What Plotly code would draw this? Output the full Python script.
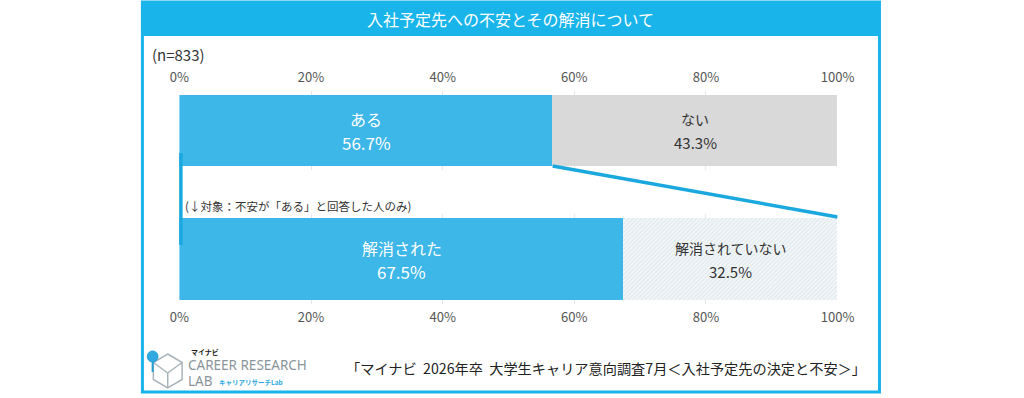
import plotly.graph_objects as go

# ---- data ----
categories_top = ["ある", "ない"]
values_top = [56.7, 43.3]
categories_bottom = ["解消された", "解消されていない"]
values_bottom = [67.5, 32.5]
tick_vals = [0, 20, 40, 60, 80, 100]
tick_text = ["0%", "20%", "40%", "60%", "80%", "100%"]
title_text = "入社予定先への不安とその解消について"
n_text = "(n=833)"
subset_note = "(↓対象：不安が「ある」と回答した人のみ)"
source_text = "「マイナビ  2026年卒  大学生キャリア意向調査7月＜入社予定先の決定と不安＞」"

W, H = 1024, 398
FONT = "Noto Sans CJK JP"
BLUE = "#3DB6E8"
CYAN = "#18B4EA"
GRAY = "#D9D9D9"


def px(x):
    return x / W


def py(y):
    return 1 - y / H


# layout geometry (pixels)
X0, X1 = 174, 850
FL, FR = 136, 893          # frame left / right
TOP_DOM = (91, 170)   # bar 95..166
BOT_DOM = (214, 304)  # bar 218..300
TOP_BAR = (95, 166)
BOT_BAR = (218, 300)


def yr(dom, bar):
    half = 0.5 * (dom[1] - dom[0]) / (bar[1] - bar[0])
    return [-half, half]


fig = go.Figure()

# top bar
top_colors = [BLUE, GRAY]
for c, v, col in zip(categories_top, values_top, top_colors):
    fig.add_trace(go.Bar(
        x=[v], y=["q"], orientation="h", xaxis="x", yaxis="y",
        marker=dict(color=col, line=dict(width=0)),
        hoverinfo="skip", showlegend=False,
    ))

# bottom bar
for i, (c, v) in enumerate(zip(categories_bottom, values_bottom)):
    if i == 0:
        marker = dict(color=BLUE, line=dict(width=0))
    else:
        marker = dict(color="#EEF3F5", line=dict(width=0),
                      pattern=dict(shape="/", fgcolor="#C3D5DC", bgcolor="#F2F6F8",
                                   size=3, solidity=0.3))
    fig.add_trace(go.Bar(
        x=[v], y=["q"], orientation="h", xaxis="x2", yaxis="y2",
        marker=marker, hoverinfo="skip", showlegend=False,
    ))

axis_common = dict(range=[0, 100], tickvals=tick_vals, ticktext=tick_text,
                   showgrid=True, gridcolor="#E6E6E6", gridwidth=1, zeroline=False,
                   showline=False, ticks="outside", tickcolor="rgba(0,0,0,0)",
                   tickfont=dict(family=FONT, size=13, color="#555555"), fixedrange=True)

fig.update_layout(
    width=W, height=H, margin=dict(l=0, r=0, t=0, b=0),
    paper_bgcolor="white", plot_bgcolor="rgba(0,0,0,0)",
    barmode="stack", bargap=0,
    font=dict(family=FONT),
    xaxis=dict(domain=[px(X0), px(X1)], anchor="y", side="top", ticklen=3, **axis_common),
    yaxis=dict(domain=[py(TOP_DOM[1]), py(TOP_DOM[0])], range=yr(TOP_DOM, TOP_BAR),
               showticklabels=False, showgrid=False, zeroline=False, fixedrange=True),
    xaxis2=dict(domain=[px(X0), px(X1)], anchor="y2", side="bottom", ticklen=1, **axis_common),
    yaxis2=dict(domain=[py(BOT_DOM[1]), py(BOT_DOM[0])], range=yr(BOT_DOM, BOT_BAR),
                showticklabels=False, showgrid=False, zeroline=False, fixedrange=True),
)

shapes = []
# outer frame
shapes.append(dict(type="rect", xref="paper", yref="paper", x0=px(FL), x1=px(FR), y0=py(392), y1=py(2),
                   line=dict(color=CYAN, width=3), fillcolor="rgba(0,0,0,0)", layer="above"))
# title band
shapes.append(dict(type="rect", xref="paper", yref="paper", x0=px(FL), x1=px(FR), y0=py(36), y1=py(2),
                   line=dict(width=0), fillcolor=CYAN, layer="below"))
# connector from top bar 'ある' end to bottom bar right end
shapes.append(dict(type="line", xref="x", yref="paper",
                   x0=values_top[0], y0=py(TOP_BAR[1]), x1=100, y1=py(BOT_BAR[0] - 1),
                   line=dict(color="#1AA8DE", width=3.5), layer="above"))
# left bracket line (paper ref so it is not clipped at the axis edge)
shapes.append(dict(type="line", xref="paper", yref="paper",
                   x0=px(X0 + 1.5), y0=py(153), x1=px(X0 + 1.5), y1=py(245),
                   line=dict(color="#1AA8DE", width=3.5), layer="above"))

# logo (simplified cube + pin)
cx, cy, r = 162, 371, 17
hexpts = [(cx, cy - r), (cx + r * 0.87, cy - r / 2), (cx + r * 0.87, cy + r / 2),
          (cx, cy + r), (cx - r * 0.87, cy + r / 2), (cx - r * 0.87, cy - r / 2)]
path = "M " + " L ".join(f"{px(a)},{py(b)}" for a, b in hexpts) + " Z"
shapes.append(dict(type="path", xref="paper", yref="paper", path=path,
                   line=dict(color="#A9B4BA", width=1.5), fillcolor="rgba(0,0,0,0)"))
for (a, b) in [(cx, cy + r), (cx - r * 0.87, cy - r / 2), (cx + r * 0.87, cy - r / 2)]:
    shapes.append(dict(type="line", xref="paper", yref="paper", x0=px(cx), y0=py(cy + 2),
                       x1=px(a), y1=py(b), line=dict(color="#A9B4BA", width=1.5)))
shapes.append(dict(type="circle", xref="paper", yref="paper",
                   x0=px(141), x1=px(152), y0=py(362), y1=py(351),
                   line=dict(color="#1E9FD8", width=1), fillcolor="#2FA9E0"))
shapes.append(dict(type="line", xref="paper", yref="paper", x0=px(146.5), x1=px(146.5),
                   y0=py(362), y1=py(372), line=dict(color="#1E9FD8", width=2)))
fig.update_layout(shapes=shapes)

ann = []


# bar labels (category + value), positioned at segment centres from the data
def seg_labels(cats, vals, xref, yref, colors, sizes):
    start = 0.0
    for c, v, col, (s1, s2) in zip(cats, vals, colors, sizes):
        mid = start + v / 2
        ann.append(dict(text=c, x=mid, y=0, xref=xref, yref=yref, yshift=11,
                        showarrow=False, font=dict(color=col, size=s1, family=FONT),
                        xanchor="center", yanchor="middle"))
        ann.append(dict(text=f"{v:.1f}%", x=mid, y=0, xref=xref, yref=yref, yshift=-12,
                        showarrow=False, font=dict(color=col, size=s2, family=FONT),
                        xanchor="center", yanchor="middle"))
        start += v


seg_labels(categories_top, values_top, "x", "y", ["white", "#333333"], [(16, 17), (14, 15)])
seg_labels(categories_bottom, values_bottom, "x2", "y2", ["white", "#333333"], [(16, 17), (14, 15)])

ann.append(dict(text=title_text, x=px(514), y=py(19), xref="paper", yref="paper",
                showarrow=False, font=dict(color="white", size=16, family=FONT),
                xanchor="center", yanchor="middle"))
ann.append(dict(text=n_text, x=px(144), y=py(55), xref="paper", yref="paper",
                showarrow=False, font=dict(color="#333333", size=15, family=FONT),
                xanchor="left", yanchor="middle"))
ann.append(dict(text=subset_note, x=px(178), y=py(206), xref="paper", yref="paper",
                showarrow=False, font=dict(color="#333333", size=11.5, family=FONT),
                xanchor="left", yanchor="middle"))
ann.append(dict(text=source_text, x=px(881), y=py(368), xref="paper", yref="paper",
                showarrow=False, font=dict(color="#222222", size=14.2, family=FONT),
                xanchor="right", yanchor="middle"))
ann.append(dict(text="<b>マイナビ</b>", x=px(184), y=py(352), xref="paper", yref="paper",
                showarrow=False, font=dict(color="#222222", size=7, family=FONT),
                xanchor="left", yanchor="middle"))
ann.append(dict(text="CAREER RESEARCH", x=px(181), y=py(365), xref="paper", yref="paper",
                showarrow=False, font=dict(color="#8A959B", size=13.5, family="Noto Sans"),
                xanchor="left", yanchor="middle"))
ann.append(dict(text="LAB", x=px(181), y=py(381), xref="paper", yref="paper",
                showarrow=False, font=dict(color="#8A959B", size=13.5, family="Noto Sans"),
                xanchor="left", yanchor="middle"))
ann.append(dict(text="<b>キャリアリサーチLab</b>", x=px(213), y=py(382), xref="paper", yref="paper",
                showarrow=False, font=dict(color="#2BA7DD", size=6.5, family=FONT),
                xanchor="left", yanchor="middle"))
fig.update_layout(annotations=ann)

fig.write_html("out.html", config={"displayModeBar": False},
               post_script="document.body.style.margin='0';document.body.style.overflow='hidden';")
